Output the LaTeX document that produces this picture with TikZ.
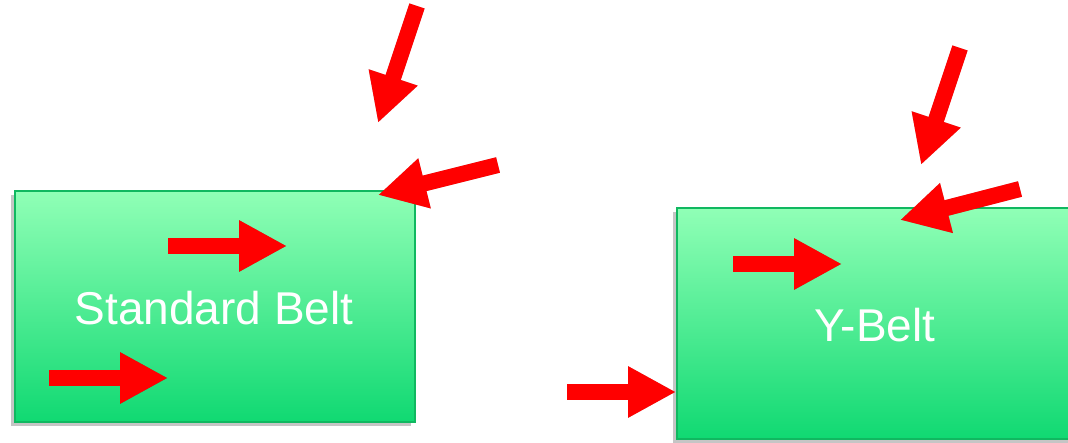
\documentclass[tikz,border=0pt]{standalone}
\usepackage{fontspec}
\setmainfont{Liberation Sans}
\usetikzlibrary{arrows.meta}
\definecolor{mintTop}{HTML}{90FFB6}
\definecolor{mintBot}{HTML}{10D972}
\definecolor{beltEdge}{HTML}{10B860}
\definecolor{arrowRed}{HTML}{FF0000}
\tikzset{
  belt/.style={draw=beltEdge, line width=2pt, top color=mintTop, bottom color=mintBot,
    anchor=north west, inner sep=0pt, minimum width=400pt, minimum height=231pt},
  beltshade/.style={fill=black!45, opacity=0.5, anchor=north west, inner sep=0pt,
    minimum width=400pt, minimum height=231pt},
  beltlabel/.style={text=white, inner sep=0pt, font=\fontsize{46}{55}\selectfont},
  tipshape/.style={-{Triangle[length=48pt,width=48pt]}},
  blockarrow/.style={tipshape, line width=16pt, draw=arrowRed},
  arrowshade/.style={tipshape, line width=16pt, draw=black, opacity=0.25,
    shift={(-2pt,4pt)}}
}
\begin{document}
\begin{tikzpicture}[x=1pt, y=-1pt]
  \useasboundingbox (0,0) rectangle (1068,443);
  \clip (0,0) rectangle (1068,443);

  % belt panels with drop shadows
  \node[beltshade] at (11,195) {};
  \node[belt] (std) at (14,190) {};
  \node[beltshade] at (673,212) {};
  \node[belt] (ybelt) at (676,207) {};

  \node[beltlabel] (stdlabel) at (214,308) {Standard Belt};
  \node[beltlabel] (ylabel) at (875,325) {Y-Belt};

  % force arrows: tail and tip points
  \coordinate (a1t) at (168,246); \coordinate (a1h) at (287,246);
  \coordinate (a2t) at (49,378);  \coordinate (a2h) at (168,378);
  \coordinate (a3t) at (417,6);   \coordinate (a3h) at (378,123);
  \coordinate (a4t) at (498,165); \coordinate (a4h) at (378,195);
  \coordinate (a5t) at (733,264); \coordinate (a5h) at (842,264);
  \coordinate (a6t) at (567,392); \coordinate (a6h) at (676,392);
  \coordinate (a7t) at (960,48);  \coordinate (a7h) at (921,165);
  \coordinate (a8t) at (1020,189); \coordinate (a8h) at (900,220);

  \foreach \a in {a1,a2,a3,a4,a5,a6,a7,a8}{
    \draw[arrowshade] (\a t) -- (\a h);
  }
  \foreach \a in {a1,a2,a3,a4,a5,a6,a7,a8}{
    \draw[blockarrow] (\a t) -- (\a h);
  }
\end{tikzpicture}
\end{document}
